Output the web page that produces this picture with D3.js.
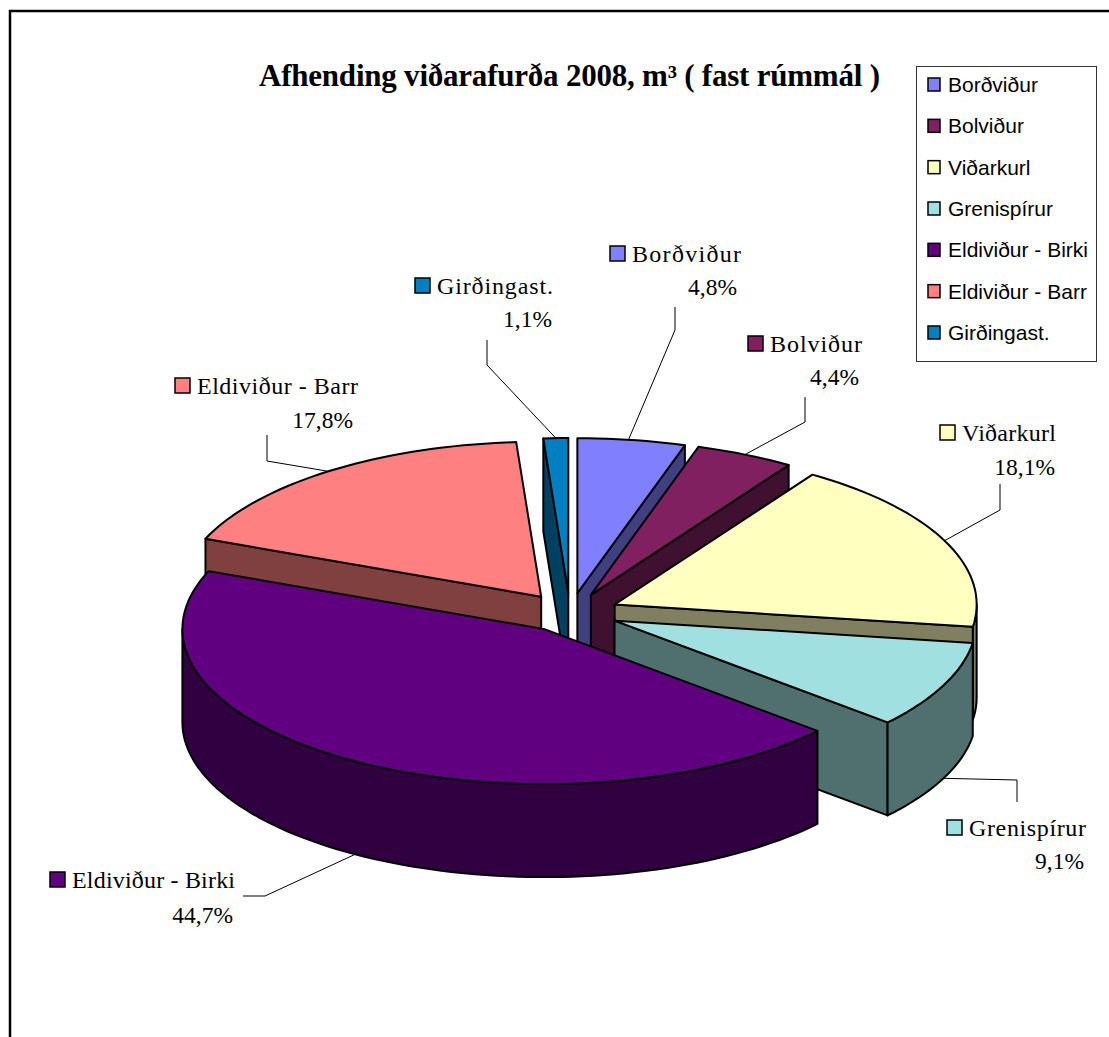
<!DOCTYPE html>
<html>
<head>
<meta charset="utf-8">
<script src="https://cdn.jsdelivr.net/npm/d3@7"></script>
<style>
  body { margin: 0; background: #fff; }
  svg { display: block; }
  .label, .title { font-family: "Liberation Serif", serif; fill: #000; }
  .legend-item { font-family: "Liberation Sans", sans-serif; fill: #000; }
</style>
</head>
<body>
<svg id="chart" width="1109" height="1037"></svg>
<script>
const categories = ['Borðviður', 'Bolviður', 'Viðarkurl', 'Grenispírur', 'Eldiviður - Birki', 'Eldiviður - Barr', 'Girðingast.'];
const shares = [4.8, 4.4, 18.1, 9.1, 44.7, 17.8, 1.1];
const shareLabels = ['4,8%', '4,4%', '18,1%', '9,1%', '44,7%', '17,8%', '1,1%'];
const topColors = ['#8080ff', '#802060', '#ffffc0', '#a0e0e0', '#600080', '#ff8080', '#0080c0'];
const wallColors = ['#404080', '#401030', '#808060', '#507070', '#300040', '#804040', '#004060'];

// Pie geometry
const cx = 570, cy = 612.5;
const rx = 362, ry = 155;
const depth = 93;
const explodeX = 49, explodeY = 19.5;

// Data label placement: swatch left, first baseline, text width, right edge of the share
const labelLayout = [
  { x: 610, y: 262, w: 109, right: 737, y2: 295 },
  { x: 748, y: 352, w: 92, right: 859, y2: 385 },
  { x: 940, y: 441, w: 94, right: 1055, y2: 475 },
  { x: 947, y: 836, w: 117, right: 1084, y2: 869 },
  { x: 50, y: 888, w: 163, right: 233, y2: 923 },
  { x: 175, y: 394, w: 161, right: 353, y2: 428 },
  { x: 415, y: 294, w: 116, right: 552, y2: 327 }
];
// Leader elbows, first point is found on the slice rim from this angle fraction
const leaderLayout = [
  { at: 0.47, rim: 'top', elbow: [[675, 330], [675, 307]] },
  { at: 0.5, rim: 'top', elbow: [[805, 422], [805, 397]] },
  { at: 0.5, rim: 'top', elbow: [[1000, 510], [1000, 484]] },
  { at: 0.5, rim: 'bottom', elbow: [[1017, 780], [1017, 802]] },
  { at: 0.5, rim: 'bottom', elbow: [[265, 896], [243, 896]] },
  { at: 0.5, rim: 'top', elbow: [[267, 461], [267, 435]] },
  { at: 0.5, rim: 'top', elbow: [[487, 365], [487, 340]] }
];

const svg = d3.select('#chart');

svg.append('path')
  .attr('d', 'M10 1037V11H1109')
  .attr('fill', 'none')
  .attr('stroke', '#000')
  .attr('stroke-width', 2.5);

svg.append('text')
  .attr('class', 'title')
  .attr('x', 259)
  .attr('y', 86)
  .attr('font-size', 31)
  .attr('font-weight', 'bold')
  .attr('textLength', 621)
  .text('Afhending viðarafurða 2008, m³ ( fast rúmmál )');

const pie = d3.pie().sort(null).value(d => d).startAngle(0).endAngle(2 * Math.PI);

const slices = pie(shares).map((d, i) => {
  const mid = (d.startAngle + d.endAngle) / 2;
  return {
    i,
    mid,
    startAngle: d.startAngle,
    endAngle: d.endAngle,
    ox: cx + explodeX * Math.sin(mid),
    oy: cy - explodeY * Math.cos(mid)
  };
});

const rimPoint = (s, a, drop = 0) => [
  s.ox + rx * Math.sin(a),
  s.oy - ry * Math.cos(a) + drop
];

const line = d3.line();
const arcAngles = (a0, a1) => {
  const n = Math.max(2, Math.ceil((a1 - a0) / 0.03));
  return d3.range(n + 1).map(k => a0 + (a1 - a0) * k / n);
};

// Back to front, so front slices cover what is behind them
const drawOrder = d3.sort(slices, (a, b) => d3.descending(Math.cos(a.mid), Math.cos(b.mid)));

const sliceG = svg.append('g')
  .selectAll('g')
  .data(drawOrder)
  .join('g')
  .attr('stroke', '#000')
  .attr('stroke-width', 2)
  .attr('stroke-linejoin', 'round');

sliceG.each(function (s) {
  const g = d3.select(this);
  const apex = [s.ox, s.oy];
  const apexLow = [s.ox, s.oy + depth];

  // Only the cut faces that turn towards the viewer
  const faces = [];
  if (Math.sin(s.startAngle) < -1e-6) faces.push(s.startAngle);
  if (Math.sin(s.endAngle) > 1e-6) faces.push(s.endAngle);
  faces.forEach(a => {
    g.append('path')
      .attr('fill', wallColors[s.i])
      .attr('d', line([apex, rimPoint(s, a), rimPoint(s, a, depth), apexLow]) + 'Z');
  });

  const a0 = Math.max(s.startAngle, Math.PI / 2);
  const a1 = Math.min(s.endAngle, 3 * Math.PI / 2);
  if (a1 > a0) {
    const angles = arcAngles(a0, a1);
    const upper = angles.map(a => rimPoint(s, a));
    const lower = angles.map(a => rimPoint(s, a, depth)).reverse();
    g.append('path')
      .attr('fill', wallColors[s.i])
      .attr('d', line(upper.concat(lower)) + 'Z');
  }

  const rim = arcAngles(s.startAngle, s.endAngle).map(a => rimPoint(s, a));
  g.append('path')
    .attr('fill', topColors[s.i])
    .attr('d', line([apex].concat(rim)) + 'Z');
});

// Leader lines
svg.append('g')
  .selectAll('path')
  .data(slices)
  .join('path')
  .attr('fill', 'none')
  .attr('stroke', '#000')
  .attr('stroke-width', 1)
  .attr('d', s => {
    const l = leaderLayout[s.i];
    const a = s.startAngle + (s.endAngle - s.startAngle) * l.at;
    const from = rimPoint(s, a, l.rim === 'bottom' ? depth : 0);
    return line([from].concat(l.elbow));
  });

// Data labels
const labels = svg.append('g')
  .selectAll('g')
  .data(categories)
  .join('g')
  .attr('class', 'label');

labels.append('rect')
  .attr('x', (d, i) => labelLayout[i].x)
  .attr('y', (d, i) => labelLayout[i].y - 16)
  .attr('width', 15)
  .attr('height', 15)
  .attr('fill', (d, i) => topColors[i])
  .attr('stroke', '#000')
  .attr('stroke-width', 1.5);

labels.append('text')
  .attr('x', (d, i) => labelLayout[i].x + 22)
  .attr('y', (d, i) => labelLayout[i].y)
  .attr('font-size', 24)
  .attr('textLength', (d, i) => labelLayout[i].w)
  .text(d => d);

labels.append('text')
  .attr('x', (d, i) => labelLayout[i].right)
  .attr('y', (d, i) => labelLayout[i].y2)
  .attr('font-size', 23.5)
  .attr('text-anchor', 'end')
  .text((d, i) => shareLabels[i]);

// Legend
svg.append('rect')
  .attr('x', 916.5)
  .attr('y', 66.5)
  .attr('width', 180)
  .attr('height', 295)
  .attr('fill', '#fff')
  .attr('stroke', '#333')
  .attr('stroke-width', 1);

const legendY = d3.scalePoint().domain(categories).range([92, 340]);

const legend = svg.append('g')
  .selectAll('g')
  .data(categories)
  .join('g')
  .attr('transform', d => `translate(0,${legendY(d)})`);

legend.append('rect')
  .attr('x', 928)
  .attr('y', -14)
  .attr('width', 12)
  .attr('height', 13)
  .attr('fill', (d, i) => topColors[i])
  .attr('stroke', '#000')
  .attr('stroke-width', 1.5);

legend.append('text')
  .attr('class', 'legend-item')
  .attr('x', 948)
  .attr('y', 0)
  .attr('font-size', 21)
  .text(d => d);
</script>
</body>
</html>
